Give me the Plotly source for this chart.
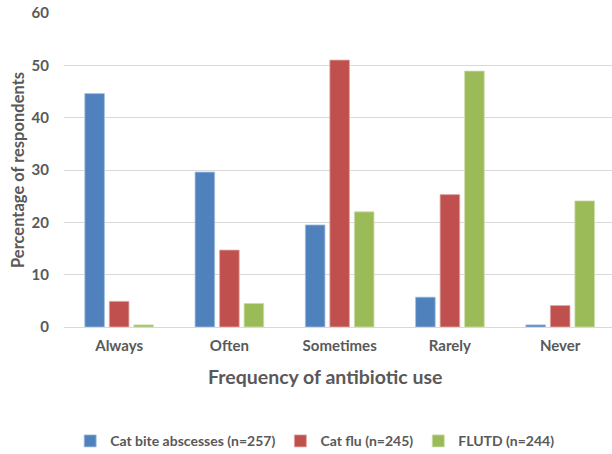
import plotly.graph_objects as go

# Survey results: how often antibiotics are used for each condition
categories = ["Always", "Often", "Sometimes", "Rarely", "Never"]
series_names = ["Cat bite abscesses (n=257)", "Cat flu (n=245)", "FLUTD (n=244)"]
cat_bite = [44.6, 29.6, 19.5, 5.7, 0.4]
cat_flu = [4.9, 14.7, 51.0, 25.3, 4.1]
flutd = [0.4, 4.5, 22.0, 48.9, 24.1]
y_ticks = [0, 10, 20, 30, 40, 50, 60]

colors = ["#4F81BD", "#C0504D", "#9BBB59"]
edge = ["#A7C0DE", "#E0A8A6", "#CDDDAC"]
font_family = "Lato, 'Open Sans', sans-serif"
text_grey = "#595959"

fig = go.Figure()
for name, vals, c, e in zip(series_names, [cat_bite, cat_flu, flutd], colors, edge):
    fig.add_trace(go.Bar(
        x=categories, y=vals, name=name,
        marker=dict(color=c, line=dict(color=e, width=0.8)),
    ))

fig.update_layout(
    width=612, height=454,
    margin=dict(l=64, r=0, t=13, b=127, autoexpand=False),
    paper_bgcolor="white", plot_bgcolor="white",
    barmode="group", bargap=0.333, bargroupgap=0.2,
    font=dict(family=font_family, color=text_grey),
    showlegend=True,
    legend=dict(
        orientation="h", xref="container", x=0.515, xanchor="center",
        yref="container", y=0.028, yanchor="middle",
        font=dict(size=14, color=text_grey, weight="bold"),
        itemwidth=30, tracegroupgap=0,
    ),
)

fig.update_xaxes(
    range=[-0.5, 4.47],
    showgrid=False, showline=False, zeroline=False, ticks="",
    tickfont=dict(size=15, color=text_grey, weight="bold"),
    ticklabelstandoff=8,
)
fig.update_yaxes(
    range=[0, 60], tickvals=y_ticks,
    showgrid=True, gridcolor="#D9D9D9", gridwidth=1,
    zeroline=True, zerolinecolor="#D9D9D9", zerolinewidth=1,
    showline=False, ticks="",
    tickfont=dict(size=15, color=text_grey, weight="bold"),
    ticklabelstandoff=14,
    title=dict(text="Percentage of respondents", standoff=2,
               font=dict(size=16.5, color=text_grey, weight="bold")),
)

fig.add_annotation(
    text="Frequency of antibiotic use", xref="paper", yref="paper",
    x=0.476, y=-0.158, xanchor="center", yanchor="middle", showarrow=False,
    font=dict(size=19.5, color=text_grey, weight="bold", family=font_family),
)

fig.write_html("out.html")
